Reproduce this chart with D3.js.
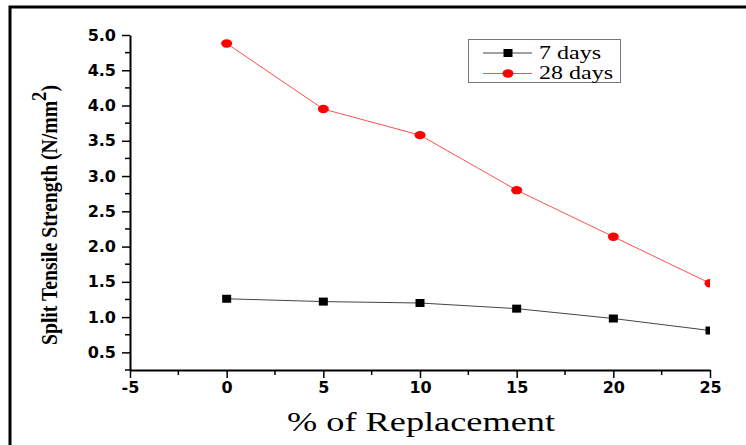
<!DOCTYPE html>
<html>
<head>
<meta charset="utf-8">
<script src="https://cdn.jsdelivr.net/npm/d3@7"></script>
<style>
    body { margin: 0; background: #fff; }
    svg { display: block; }
</style>
</head>
<body>
<div id="chart"></div>
<script>
// data
const replacement = [0, 5, 10, 15, 20, 25];
const days7 = [1.26, 1.22, 1.20, 1.12, 0.98, 0.81];
const days28 = [4.88, 3.95, 3.58, 2.80, 2.14, 1.48];
const xTicks = [-5, 0, 5, 10, 15, 20, 25];
const yTicks = [0.5, 1.0, 1.5, 2.0, 2.5, 3.0, 3.5, 4.0, 4.5, 5.0];
const seriesNames = ["7 days", "28 days"];

const settings = {
    width: 746,
    height: 445,
    plot: { left: 130, right: 710, top: 35, bottom: 370 },
    major: 8,
    minor: 5
};

let svg = d3.select("#chart")
    .append("svg")
    .attr("width", settings.width)
    .attr("height", settings.height);

// outer frame (only top and left visible, picture is cropped)
svg.append("path")
    .attr("d", "M10,446 L10,7 L747,7")
    .attr("fill", "none")
    .attr("stroke", "#000")
    .attr("stroke-width", 3);

let x = d3.scaleLinear().domain([-5, 25]).range([settings.plot.left, settings.plot.right]);
let y = d3.scaleLinear().domain([0.25, 5.0]).range([settings.plot.bottom, settings.plot.top]);

// minor ticks
let xMinor = d3.range(-2.5, 25, 5);
let yMinor = d3.range(0.25, 5.0, 0.5);

svg.append("g")
    .selectAll("line")
    .data(xMinor)
    .enter()
    .append("line")
    .attr("x1", d => x(d)).attr("x2", d => x(d))
    .attr("y1", settings.plot.bottom).attr("y2", settings.plot.bottom + settings.minor)
    .attr("stroke", "#000").attr("stroke-width", 1.5);

svg.append("g")
    .selectAll("line")
    .data(yMinor)
    .enter()
    .append("line")
    .attr("y1", d => y(d)).attr("y2", d => y(d))
    .attr("x1", settings.plot.left).attr("x2", settings.plot.left - settings.minor)
    .attr("stroke", "#000").attr("stroke-width", 1.5);

// axes
let xAxis = svg.append("g")
    .attr("transform", "translate(0," + settings.plot.bottom + ")")
    .call(d3.axisBottom(x).tickValues(xTicks).tickFormat(d => String(d)).tickSize(settings.major).tickSizeOuter(0));
let yAxis = svg.append("g")
    .attr("transform", "translate(" + settings.plot.left + ",0)")
    .call(d3.axisLeft(y).tickValues(yTicks).tickFormat(d => d.toFixed(1)).tickSize(settings.major).tickSizeOuter(0));

[xAxis, yAxis].forEach(a => {
    a.select(".domain").attr("stroke", "#000").attr("stroke-width", 2);
    a.selectAll(".tick line").attr("stroke", "#000").attr("stroke-width", 1.5);
    a.selectAll(".tick text")
        .attr("fill", "#000")
        .style("font-family", "'DejaVu Sans', sans-serif")
        .style("font-weight", "bold")
        .style("font-size", "16px");
});
xAxis.selectAll(".tick text").attr("y", 12).attr("dy", "0.71em");
yAxis.selectAll(".tick text").attr("x", -14);

// axis titles
svg.append("text")
    .attr("x", 287)
    .attr("y", 431)
    .attr("textLength", 268)
    .attr("lengthAdjust", "spacingAndGlyphs")
    .style("font-family", "'Liberation Serif', 'Times New Roman', serif")
    .style("font-size", "27px")
    .text("% of Replacement");

let yTitle = svg.append("text")
    .attr("transform", "translate(57,345) rotate(-90)")
    .attr("textLength", 260)
    .attr("lengthAdjust", "spacingAndGlyphs")
    .style("font-family", "'Liberation Serif', 'Times New Roman', serif")
    .style("font-weight", "bold")
    .style("font-size", "23px");
yTitle.append("tspan").text("Split Tensile Strength (N/mm");
yTitle.append("tspan").attr("dy", -11).style("font-size", "22px").text("2");
yTitle.append("tspan").attr("dy", 11).text(")");

// plot clip
svg.append("clipPath")
    .attr("id", "clip")
    .append("rect")
    .attr("x", settings.plot.left)
    .attr("y", 0)
    .attr("width", settings.plot.right - settings.plot.left)
    .attr("height", settings.plot.bottom);

let plot = svg.append("g").attr("clip-path", "url(#clip)");

let line = d3.line()
    .x((d, i) => x(replacement[i]))
    .y(d => y(d));

const series = [
    { name: seriesNames[0], values: days7, color: "#000", lineColor: "#444", shape: "square" },
    { name: seriesNames[1], values: days28, color: "#ff0000", lineColor: "#ff5050", shape: "circle" }
];

const drawMarker = (g, shape, color, cx, cy) => {
    if (shape === "square") {
        g.append("rect")
            .attr("x", cx - 4.5).attr("y", cy - 4)
            .attr("width", 9).attr("height", 8)
            .attr("fill", color);
    } else {
        g.append("ellipse")
            .attr("cx", cx).attr("cy", cy)
            .attr("rx", 5.5).attr("ry", 4.2)
            .attr("fill", color);
    }
};

series.forEach(s => {
    plot.append("path")
        .datum(s.values)
        .attr("d", line)
        .attr("fill", "none")
        .attr("stroke", s.lineColor)
        .attr("stroke-width", 1);
    s.values.forEach((v, i) => {
        drawMarker(plot, s.shape, s.color, x(replacement[i]), y(v));
    });
});

// legend
let legend = svg.append("g");
legend.append("rect")
    .attr("x", 468.5).attr("y", 39.5)
    .attr("width", 152).attr("height", 43)
    .attr("fill", "#fff")
    .attr("stroke", "#777")
    .attr("stroke-width", 1);

series.forEach((s, i) => {
    let ly = 53 + i * 20.5;
    legend.append("line")
        .attr("x1", 483).attr("x2", 532)
        .attr("y1", ly).attr("y2", ly)
        .attr("stroke", s.lineColor)
        .attr("stroke-width", 1);
    drawMarker(legend, s.shape, s.color, 508, ly);
    legend.append("text")
        .attr("x", 539)
        .attr("y", ly + 5.5)
        .attr("textLength", i === 0 ? 62 : 74)
        .attr("lengthAdjust", "spacingAndGlyphs")
        .style("font-family", "'Liberation Serif', 'Times New Roman', serif")
        .style("font-size", "18px")
        .text(s.name);
});
</script>
</body>
</html>
